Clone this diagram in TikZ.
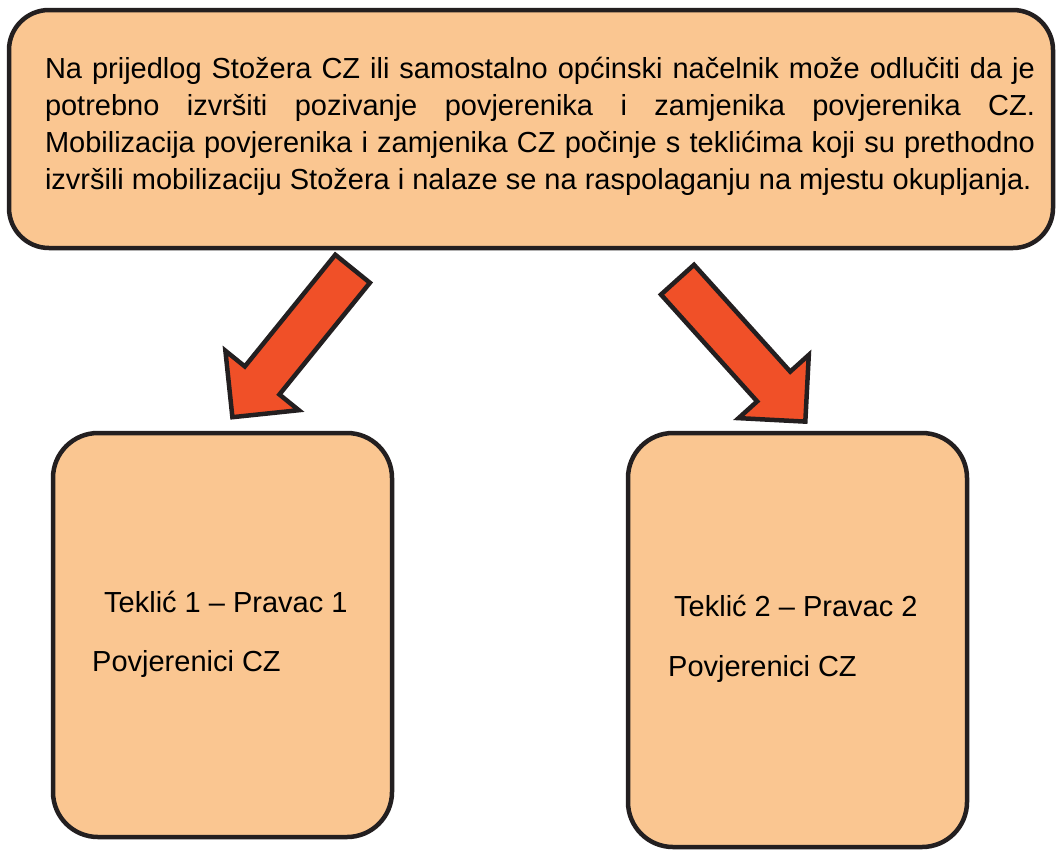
\documentclass[tikz,border=0pt]{standalone}
\usepackage{fontspec}
\setmainfont{Liberation Sans}
\usetikzlibrary{shapes.arrows}
\definecolor{peach}{RGB}{250,198,145}
\definecolor{arrowred}{RGB}{240,80,40}
\definecolor{edge}{RGB}{35,31,32}
\tikzstyle{box}=[draw=edge,fill=peach,rectangle,line width=4.5pt,rounded corners=40pt]
\tikzstyle{blockarrow}=[single arrow,draw=edge,fill=arrowred,line width=4.5pt,inner xsep=0pt,
  inner ysep=20pt,single arrow head extend=25pt,minimum height=191pt]
\tikzstyle{every node}=[font=\fontsize{29}{37}\selectfont]
\tikzstyle{lbl}=[anchor=base west,inner sep=0pt]

\begin{document}
\begin{tikzpicture}[x=1pt,y=-1pt]
  \useasboundingbox (0,0) rectangle (1056,849);
  % top box
  \node[box,minimum width=1044pt,minimum height=238pt] (gore) at (531,129) {};
  \node[text width=990pt,align=justify,inner sep=0pt] (poziv) at (540,126)
    {Na prijedlog Stožera CZ ili samostalno općinski načelnik može odlučiti da je\linebreak
     potrebno izvršiti pozivanje povjerenika i zamjenika povjerenika CZ.\linebreak
     Mobilizacija povjerenika i zamjenika CZ počinje s teklićima koji su prethodno\linebreak
     izvršili mobilizaciju Stožera i nalaze se na raspolaganju na mjestu okupljanja.};
  % bottom boxes
  \node[box,rounded corners=45pt,minimum width=339pt,minimum height=404pt] (pravac1) at (222.5,635) {};
  \node[box,rounded corners=45pt,minimum width=339pt,minimum height=414pt] (pravac2) at (797.5,640) {};
  \node[lbl] (t1) at (104,612) {Teklić 1 – Pravac 1};
  \node[lbl] (p1) at (92,671) {Povjerenici CZ};
  \node[lbl] (t2) at (674,616) {Teklić 2 – Pravac 2};
  \node[lbl] (p2) at (668,676) {Povjerenici CZ};
  % arrows
  \coordinate (rep1) at (354,267);
  \coordinate (rep2) at (676,278);
  \node[blockarrow,anchor=tail,rotate=231] (str1) at (rep1) {};
  \node[blockarrow,anchor=tail,rotate=-48] (str2) at (rep2) {};
\end{tikzpicture}
\end{document}
